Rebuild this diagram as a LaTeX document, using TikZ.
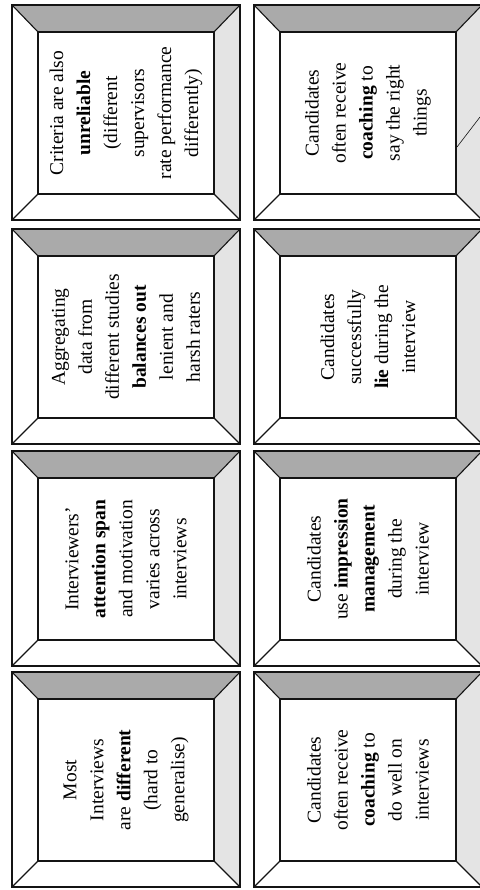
\documentclass[tikz,border=0pt]{standalone}
\usepackage{fontspec}
\setmainfont{Liberation Serif}
\usepackage{xcolor}
\usepackage{tikz}
\usetikzlibrary{positioning}
\definecolor{bevdark}{RGB}{170,170,170}
\definecolor{bevlight}{RGB}{228,228,228}
\definecolor{framedark}{RGB}{20,20,20}
\tikzset{
  frameline/.style={line width=1.1pt, color=framedark, line join=miter},
  bevtop/.style={fill=bevdark},
  bevright/.style={fill=bevlight},
  cardtext/.style={rotate=90, align=center,
    font=\fontsize{19.5}{27}\selectfont, inner sep=0pt},
  stray/.style={line width=0.6pt, color=framedark}
}
% bevelled frame: #1 = x, #2 = y (top left), #3 = node name, #4 = text
\newcommand{\bevelcard}[4]{%
  \begin{scope}[shift={(#1,#2)}]
    \fill[bevtop] (0,0) -- (228,0) -- (202,27) -- (26,27) -- cycle;
    \fill[bevright] (228,0) -- (228,215) -- (202,189) -- (202,27) -- cycle;
    \draw[frameline] (0,0) rectangle (228,215);
    \draw[frameline] (26,27) rectangle (202,189);
    \draw[frameline] (0,0) -- (26,27) (228,0) -- (202,27)
      (0,215) -- (26,189) (228,215) -- (202,189);
    \node[cardtext] (#3) at (114,108) {#4};
  \end{scope}}

\begin{document}
\begin{tikzpicture}[x=1pt, y=-1pt]
  \useasboundingbox (0,0) rectangle (479,890);

  % left column
  \bevelcard{12}{5}{criteria}{Criteria are also\\\textbf{unreliable}\\(different\\supervisors\\rate performance\\differently)}
  \bevelcard{12}{229}{aggregate}{Aggregating\\data from\\different studies\\\textbf{balances out}\\lenient and\\harsh raters}
  \bevelcard{12}{451}{attention}{Interviewers'\\\textbf{attention span}\\and motivation\\varies across\\interviews}
  \bevelcard{12}{672}{different}{Most\\Interviews\\are \textbf{different}\\(hard to\\generalise)}

  % right column
  \bevelcard{254}{5}{coachright}{Candidates\\often receive\\\textbf{coaching} to\\say the right\\things}
  \bevelcard{254}{229}{lie}{Candidates\\successfully\\\textbf{lie} during the\\interview}
  \bevelcard{254}{451}{impression}{Candidates\\use \textbf{impression}\\\textbf{management}\\during the\\interview}
  \bevelcard{254}{672}{coachwell}{Candidates\\often receive\\\textbf{coaching} to\\do well on\\interviews}

  % stray mark in the top right card
  \coordinate (markA) at (480,117);
  \coordinate (markB) at (457,147);
  \draw[stray] (markA) -- (markB);
\end{tikzpicture}
\end{document}
